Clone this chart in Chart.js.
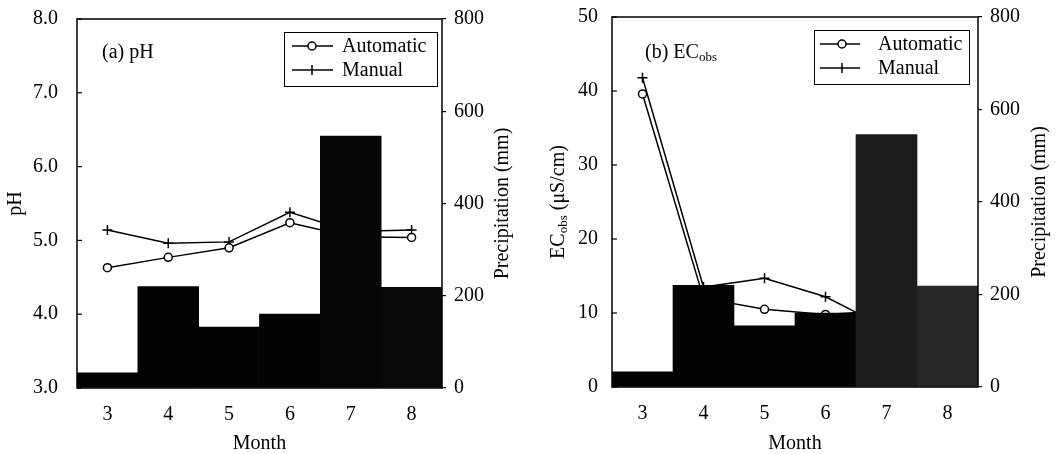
<!DOCTYPE html>
<html><head><meta charset="utf-8">
<script src="https://cdn.jsdelivr.net/npm/chart.js@4.4.0/dist/chart.umd.min.js"></script>
<style>
html,body{margin:0;padding:0;background:#fff;}
#wrap{position:relative;width:1061px;height:454px;overflow:hidden;}
.panel{position:absolute;top:0;height:454px;}
</style></head><body>
<div id="wrap">
<div class="panel" style="left:0;width:530px"><canvas id="c1" width="530" height="454"></canvas></div>
<div class="panel" style="left:530px;width:531px"><canvas id="c2" width="531" height="454"></canvas></div>
</div>
<script>
// ---- data ----
const months = ['3', '4', '5', '6', '7', '8'];
const precipitation = [33, 220, 132, 160, 546, 218];
const phAutomatic = [4.63, 4.77, 4.90, 5.24, 5.05, 5.04];
const phManual = [5.14, 4.96, 4.98, 5.38, 5.12, 5.14];
const ecAutomatic = [39.6, 12.0, 10.5, 9.8, 10.3, 9.5];
const ecManual = [41.8, 13.5, 14.7, 12.2, 8.0, 9.0];
const seriesNames = ['Automatic', 'Manual'];

const FAMILY = "'Liberation Serif', 'Times New Roman', serif";
const tickFont = {family: FAMILY, size: 20};
const titleFont = {family: FAMILY, size: 20};
const monthFont = {family: FAMILY, size: 20, lineHeight: 1.0};

function zeroPad(s) { s.paddingTop = 0; s.paddingBottom = 0; s.paddingLeft = 0; s.paddingRight = 0; }

const decoPlugin = {
  id: 'deco',
  afterDatasetsDraw(chart, args, o) {
    const ctx = chart.ctx, ca = chart.chartArea;
    ctx.save();
    // frame
    ctx.strokeStyle = '#000'; ctx.lineWidth = 1.5;
    ctx.strokeRect(ca.left, ca.top, ca.right - ca.left, ca.bottom - ca.top);
    // inward ticks on left axis
    const ys = chart.scales.y;
    ctx.lineWidth = 1.2;
    ys.ticks.forEach(t => {
      const py = ys.getPixelForValue(t.value);
      ctx.beginPath(); ctx.moveTo(ca.left, py); ctx.lineTo(ca.left + 5, py); ctx.stroke();
    });
    // legend box
    const L = o.legend;
    ctx.fillStyle = '#fff';
    ctx.fillRect(L.x, L.y, L.w, L.h);
    ctx.lineWidth = 1; ctx.strokeStyle = '#000';
    ctx.strokeRect(L.x + 0.5, L.y + 0.5, L.w, L.h);
    ctx.font = '20px ' + FAMILY;
    ctx.textBaseline = 'middle'; ctx.textAlign = 'left';
    seriesNames.forEach((name, i) => {
      const yy = L.y + L.rows[i];
      ctx.strokeStyle = '#000'; ctx.lineWidth = 1.5;
      ctx.beginPath(); ctx.moveTo(L.x + L.l1, yy); ctx.lineTo(L.x + L.l2, yy); ctx.stroke();
      const mx = L.x + L.mk;
      if (i === 0) {
        ctx.beginPath(); ctx.arc(mx, yy, 4, 0, Math.PI * 2);
        ctx.fillStyle = '#fff'; ctx.fill(); ctx.stroke();
      } else {
        ctx.beginPath(); ctx.moveTo(mx, yy - 5); ctx.lineTo(mx, yy + 5); ctx.stroke();
      }
      ctx.fillStyle = '#000';
      ctx.fillText(name, L.x + L.tx, yy + 1);
    });
    // panel label
    const A = o.label;
    ctx.fillStyle = '#000';
    ctx.font = '20px ' + FAMILY;
    ctx.fillText(A.text, A.x, A.y);
    if (A.sub) {
      const w = ctx.measureText(A.text).width;
      ctx.font = '13px ' + FAMILY;
      ctx.fillText(A.sub, A.x + w, A.y + 5);
    }
    // right axis title
    ctx.font = '20px ' + FAMILY;
    ctx.textAlign = 'center';
    const cy = (ca.top + ca.bottom) / 2;
    ctx.translate(o.rightTitleX, cy);
    ctx.rotate(-Math.PI / 2);
    ctx.fillText('Precipitation (mm)', 0, 0);
    ctx.setTransform(1, 0, 0, 1, 0, 0);
    // custom left title with subscript
    if (o.leftTitle) {
      const T = o.leftTitle;
      ctx.translate(T.x, cy);
      ctx.rotate(-Math.PI / 2);
      ctx.textAlign = 'left';
      ctx.font = '20px ' + FAMILY;
      const w1 = ctx.measureText(T.main).width;
      const w3 = ctx.measureText(T.rest).width;
      ctx.font = '13px ' + FAMILY;
      const w2 = ctx.measureText(T.sub).width;
      let x0 = -(w1 + w2 + w3) / 2;
      ctx.font = '20px ' + FAMILY;
      ctx.fillText(T.main, x0, 0);
      ctx.font = '13px ' + FAMILY;
      ctx.fillText(T.sub, x0 + w1, 5);
      ctx.font = '20px ' + FAMILY;
      ctx.fillText(T.rest, x0 + w1 + w2, 0);
    }
    ctx.restore();
  }
};

function makeChart(id, cfg) {
  return new Chart(document.getElementById(id), {
    data: {
      labels: months,
      datasets: [
        {type: 'bar', label: 'Precipitation', data: precipitation, yAxisID: 'y2',
         backgroundColor: cfg.barColors, borderWidth: 0, barPercentage: 1, categoryPercentage: 1, order: 0},
        {type: 'line', label: seriesNames[0], data: cfg.auto, yAxisID: 'y',
         borderColor: '#000', borderWidth: 1.5, pointStyle: 'circle', pointRadius: 4,
         pointBackgroundColor: '#fff', pointBorderColor: '#000', pointBorderWidth: 1.5, tension: 0, order: 1},
        {type: 'line', label: seriesNames[1], data: cfg.manual, yAxisID: 'y',
         borderColor: '#000', borderWidth: 1.5, pointStyle: 'cross', pointRadius: 5,
         pointBorderColor: '#000', pointBorderWidth: 1.5, tension: 0, order: 2}
      ]
    },
    options: {
      responsive: false, animation: false, devicePixelRatio: 1,
      layout: {padding: {top: cfg.top, left: 0, right: 0, bottom: 0}},
      plugins: {legend: {display: false}, tooltip: {enabled: false}, deco: cfg.deco},
      scales: {
        x: {type: 'category', offset: true,
            grid: {display: false, drawTicks: false}, border: {display: false},
            ticks: {color: '#000', font: tickFont, padding: 15, maxRotation: 0},
            title: {display: true, text: 'Month', color: '#000', font: monthFont, padding: {top: 0, bottom: 0}},
            afterFit(s) { s.height = cfg.xH; zeroPad(s); }},
        y: {type: 'linear', position: 'left', min: cfg.yMin, max: cfg.yMax,
            grid: {display: false, drawTicks: false}, border: {display: false},
            ticks: {color: '#000', font: tickFont, stepSize: cfg.yStep, padding: cfg.yPad, callback: cfg.yFmt},
            title: {display: cfg.yTitle !== '', text: cfg.yTitle, color: '#000', font: titleFont, padding: {top: 4, bottom: 0}},
            afterFit(s) { s.width = cfg.yW; zeroPad(s); }},
        y2: {type: 'linear', position: 'right', min: 0, max: 800,
            grid: {display: true, drawOnChartArea: false, drawTicks: true, tickLength: 4, color: '#000', lineWidth: 1.2},
            border: {display: false},
            ticks: {color: '#000', font: tickFont, stepSize: 200, padding: 8},
            afterFit(s) { s.width = cfg.y2W; zeroPad(s); }}
      }
    },
    plugins: [decoPlugin]
  });
}

makeChart('c1', {
  auto: phAutomatic, manual: phManual,
  barColors: ['#030303', '#030303', '#030303', '#030303', '#060606', '#080808'],
  top: 19, xH: 66, yW: 77, y2W: 88, yPad: 19,
  yMin: 3, yMax: 8, yStep: 1, yFmt: v => Number(v).toFixed(1), yTitle: 'pH',
  deco: {
    legend: {x: 284, y: 32, w: 153, h: 54, l1: 8, l2: 49, mk: 28, tx: 58, rows: [14, 38]},
    label: {text: '(a) pH', x: 102, y: 53},
    rightTitleX: 503
  }
});

makeChart('c2', {
  auto: ecAutomatic, manual: ecManual,
  barColors: ['#030303', '#030303', '#030303', '#030303', '#1c1c1c', '#262626'],
  top: 17, xH: 67, yW: 82, y2W: 83, yPad: 14,
  yMin: 0, yMax: 50, yStep: 10, yFmt: v => String(v), yTitle: '',
  deco: {
    legend: {x: 284, y: 30, w: 155, h: 54, l1: 6, l2: 46, mk: 28, tx: 64, rows: [14, 38]},
    label: {text: '(b) EC', sub: 'obs', x: 115, y: 53},
    rightTitleX: 510,
    leftTitle: {x: 29, main: 'EC', sub: 'obs', rest: ' (\u03bcS/cm)'}
  }
});
</script>
</body></html>
